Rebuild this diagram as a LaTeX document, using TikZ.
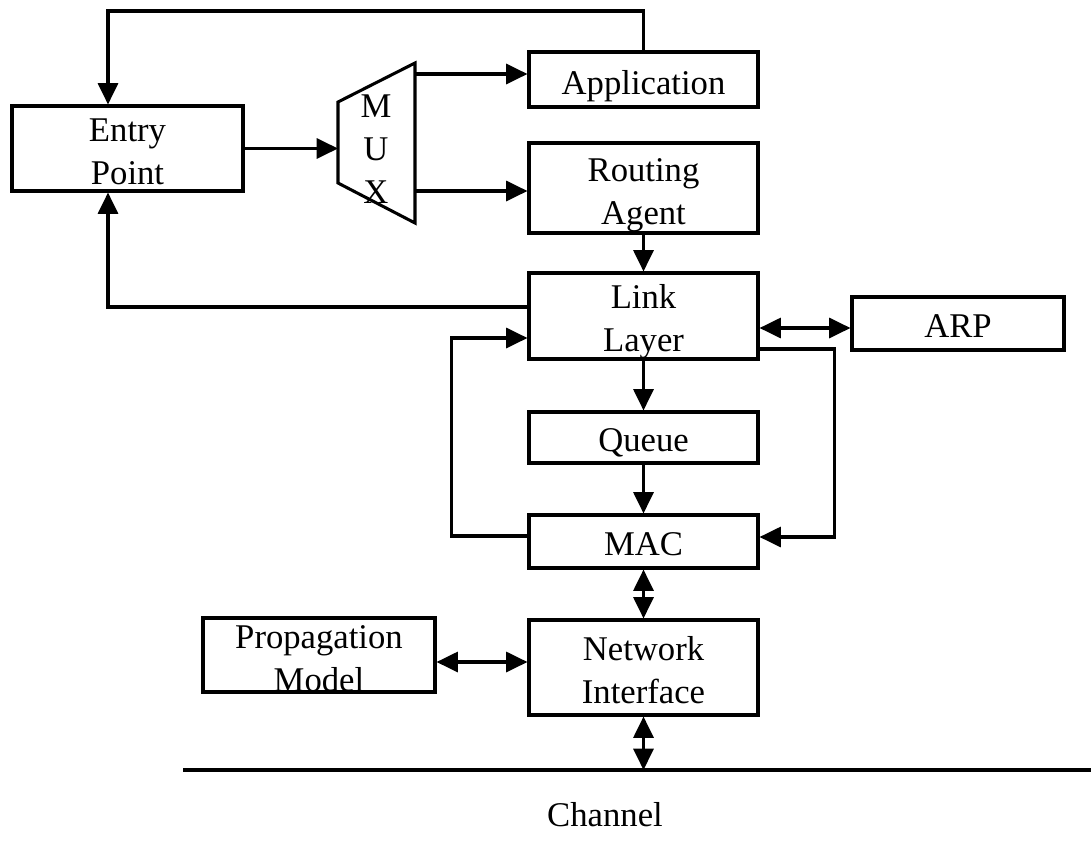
\documentclass[tikz,border=0pt]{standalone}
\usepackage{fontspec}
\setmainfont{Liberation Serif}
\usetikzlibrary{arrows.meta,calc}
\newcommand{\diaglabel}{\fontsize{26}{32.5}\selectfont}
\begin{document}
\begin{tikzpicture}[x=0.75pt,y=-0.75pt,
  line width=2.3pt,
  box/.style={draw, line width=2.3pt, inner sep=0pt},
  txt/.style={inner sep=0pt, align=center, font=\diaglabel},
  tip/.style={-{Triangle[length=16pt,width=15pt]}},
  tips/.style={{Triangle[length=16pt,width=15pt]}-{Triangle[length=16pt,width=15pt]}},
]
\useasboundingbox[fill=white] (0,0) rectangle (1091,842);

% blocks (frames)
\node[box, minimum width=231*0.75pt, minimum height=85*0.75pt] (entry) at (127.5,148.5) {};
\node[box, minimum width=229*0.75pt, minimum height=55*0.75pt] (app) at (643.5,79.5) {};
\node[box, minimum width=229*0.75pt, minimum height=90*0.75pt] (routing) at (643.5,188) {};
\node[box, minimum width=229*0.75pt, minimum height=86*0.75pt] (link) at (643.5,316) {};
\node[box, minimum width=212*0.75pt, minimum height=53*0.75pt] (arp) at (958,323.5) {};
\node[box, minimum width=229*0.75pt, minimum height=51*0.75pt] (queue) at (643.5,437.5) {};
\node[box, minimum width=229*0.75pt, minimum height=53*0.75pt] (mac) at (643.5,541.5) {};
\node[box, minimum width=229*0.75pt, minimum height=95*0.75pt] (ni) at (643.5,667.5) {};
\node[box, minimum width=232*0.75pt, minimum height=74*0.75pt] (prop) at (319,655) {};

% block labels
\node[txt] (entry-t) at ($(entry)+(0,3)$) {Entry\\Point};
\node[txt] (app-t) at ($(app)+(0,7)$) {Application};
\node[txt] (routing-t) at ($(routing)+(0,7)$) {Routing\\Agent};
\node[txt] (link-t) at ($(link)+(0,6)$) {Link\\Layer};
\node[txt] (arp-t) at ($(arp)+(0,3)$) {ARP};
\node[txt] (queue-t) at ($(queue)+(0,5)$) {Queue};
\node[txt] (mac-t) at ($(mac)+(0,2.5)$) {MAC};
\node[txt] (ni-t) at ($(ni)+(0,2.5)$) {Network\\Interface};
\node[txt] (prop-t) at ($(prop)+(0,3.5)$) {Propagation\\Model};

% multiplexer
\coordinate (muxTL) at (338,102);
\coordinate (muxTR) at (415,63);
\coordinate (muxBR) at (415,223);
\coordinate (muxBL) at (338,183);
\draw (muxTL) -- (muxTR) -- (muxBR) -- (muxBL) -- cycle;
\node[txt] (mux) at (376,149) {M\\U\\X};
\coordinate (muxA) at (415,74);
\coordinate (muxB) at (415,191);

% channel
\coordinate (chL) at (183,770);
\coordinate (chR) at (1091,770);
\draw (chL) -- (chR);
\node[txt] (chan) at (605,815) {Channel};

% feedback paths
\coordinate (fb) at (108,11);
\draw[tip] (app.north) |- (fb) -- (fb |- entry.north);
\draw[tip] ($(link.west)+(0,-9)$) -| (fb |- entry.south);
\draw[tip] ($(mac.west)+(0,-5.5)$) -- ++(-76,0) |- ($(link.west)+(0,22)$);
\draw[tip] ($(link.east)+(0,33)$) -- ++(75,0) |- ($(mac.east)+(0,-4.5)$);

% forward paths
\draw[tip] (entry.east) -- (entry.east -| muxTL);
\draw[tip] (muxA) -- (muxA -| app.west);
\draw[tip] (muxB) -- (muxB -| routing.west);
\draw[tip] (routing.south) -- (link.north);
\draw[tip] (link.south) -- (queue.north);
\draw[tip] (queue.south) -- (mac.north);

% two-way links
\coordinate (arpY) at ($(link.east)+(0,12)$);
\draw[tips] (arpY) -- (arpY -| arp.west);
\draw[tips] (mac.south) -- (ni.north);
\coordinate (propY) at ($(prop.east)+(0,7)$);
\draw[tips] (propY) -- (propY -| ni.west);
\draw[tips] (ni.south) -- (ni.south |- chL);
\end{tikzpicture}
\end{document}
